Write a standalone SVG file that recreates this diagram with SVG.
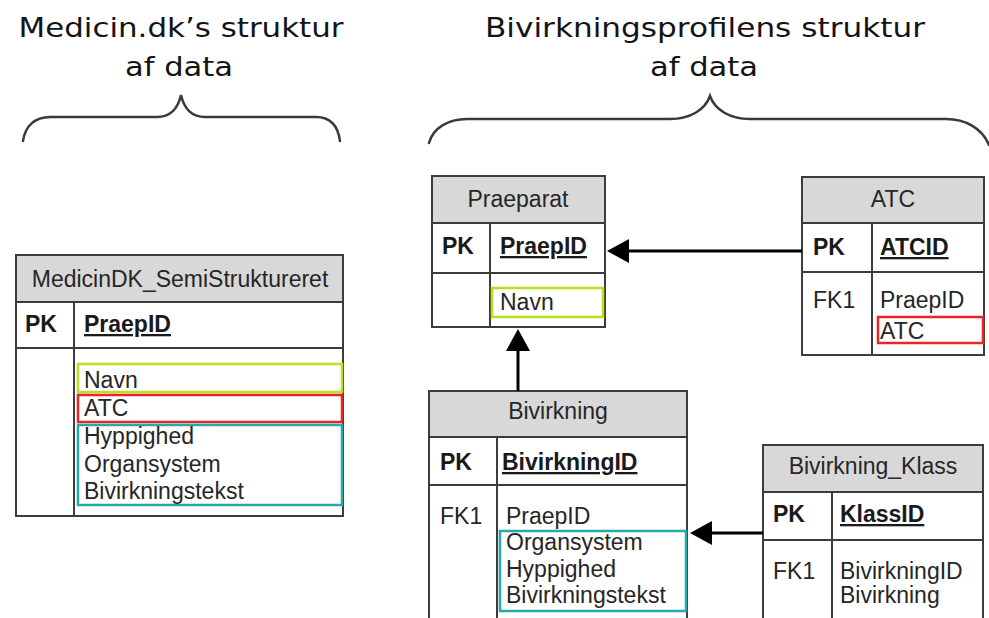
<svg xmlns="http://www.w3.org/2000/svg" width="989" height="618" viewBox="0 0 989 618">
  <style>
    .title { font-family: "DejaVu Sans", Verdana, sans-serif; font-size: 27px; fill: #141414; }
    .brace { fill: none; stroke: #3a3a3a; stroke-width: 2.5; stroke-linecap: round; }
    .box { fill: #ffffff; stroke: #3c3c3c; stroke-width: 2; }
    .head { fill: #d8d8d8; stroke: #3c3c3c; stroke-width: 2; }
    .rule { stroke: #3c3c3c; stroke-width: 2; }
    .t { font-family: "Liberation Sans", Arial, sans-serif; font-size: 23px; fill: #262626; }
    .h { text-anchor: middle; }
    .b { font-weight: bold; fill: #1a1a1a; }
    .u { text-decoration: underline; }
    .green { fill: none; stroke: #b8e01c; stroke-width: 2.5; }
    .red { fill: none; stroke: #e8262a; stroke-width: 2.5; }
    .teal { fill: none; stroke: #27a9a9; stroke-width: 2.5; }
    .link { fill: none; stroke: #000000; stroke-width: 3; }
  </style>
  <defs>
    <marker id="arrow" viewBox="0 0 22 24" refX="2" refY="12" markerWidth="22" markerHeight="24" markerUnits="userSpaceOnUse" orient="auto">
      <path d="M0,0 L22,12 L0,24 z" fill="#000000"/>
    </marker>
  </defs>
  <rect width="989" height="618" fill="#ffffff"/>

  <!-- section headings with braces -->
  <g id="heading-medicin">
    <text class="title" x="181" y="37" text-anchor="middle" textLength="325" lengthAdjust="spacingAndGlyphs">Medicin.dk’s struktur</text>
    <text class="title" x="179" y="76" text-anchor="middle" textLength="108" lengthAdjust="spacingAndGlyphs">af data</text>
    <path class="brace" d="M23,141 C25,126 35,117 50,117 L157,117 C171,117 178,108 181,95 C184,108 191,117 205,117 L316,117 C331,117 338,126 340,141"/>
  </g>
  <g id="heading-bivirkning">
    <text class="title" x="705" y="37" text-anchor="middle" textLength="440" lengthAdjust="spacingAndGlyphs">Bivirkningsprofilens struktur</text>
    <text class="title" x="704" y="76" text-anchor="middle" textLength="108" lengthAdjust="spacingAndGlyphs">af data</text>
    <path class="brace" d="M429,143 C433,128 448,119 467,119 L670,119 C690,119 705,110 710,96 C715,110 730,119 750,119 L946,119 C965,119 982,128 989,145"/>
  </g>

  <!-- MedicinDK_SemiStruktureret -->
  <g id="medicindk">
    <rect class="box" x="16" y="255" width="327" height="261"/>
    <rect class="head" x="16" y="255" width="327" height="47"/>
    <line class="rule" x1="16" y1="348" x2="343" y2="348"/>
    <line class="rule" x1="74" y1="302" x2="74" y2="516"/>
    <text class="t h" x="180" y="287">MedicinDK_SemiStruktureret</text>
    <text class="t b" x="25" y="332">PK</text>
    <text class="t b u" x="84" y="332">PraepID</text>
    <rect class="green" x="78" y="364" width="264" height="28"/>
    <rect class="red" x="78" y="395" width="264" height="27"/>
    <rect class="teal" x="78" y="425" width="264" height="80"/>
    <text class="t" x="84" y="388">Navn</text>
    <text class="t" x="84" y="416">ATC</text>
    <text class="t" x="84" y="444">Hyppighed</text>
    <text class="t" x="84" y="472">Organsystem</text>
    <text class="t" x="84" y="499">Bivirkningstekst</text>
  </g>

  <!-- Praeparat -->
  <g id="praeparat">
    <rect class="box" x="432" y="176" width="173" height="151"/>
    <rect class="head" x="432" y="176" width="173" height="47"/>
    <line class="rule" x1="432" y1="273" x2="605" y2="273"/>
    <line class="rule" x1="490" y1="223" x2="490" y2="327"/>
    <text class="t h" x="518" y="207">Praeparat</text>
    <text class="t b" x="442" y="254">PK</text>
    <text class="t b u" x="500" y="254">PraepID</text>
    <rect class="green" x="492" y="288" width="111" height="29"/>
    <text class="t" x="500" y="310">Navn</text>
  </g>

  <!-- ATC -->
  <g id="atc">
    <rect class="box" x="802" y="177" width="182" height="178"/>
    <rect class="head" x="802" y="177" width="182" height="46"/>
    <line class="rule" x1="802" y1="272" x2="984" y2="272"/>
    <line class="rule" x1="872" y1="223" x2="872" y2="355"/>
    <text class="t h" x="893" y="207">ATC</text>
    <text class="t b" x="813" y="255">PK</text>
    <text class="t b u" x="880" y="255">ATCID</text>
    <text class="t" x="813" y="308">FK1</text>
    <text class="t" x="880" y="308">PraepID</text>
    <rect class="red" x="878" y="317" width="105" height="26"/>
    <text class="t" x="880" y="339">ATC</text>
  </g>

  <!-- Bivirkning -->
  <g id="bivirkning">
    <rect class="box" x="429" y="391" width="258" height="250"/>
    <rect class="head" x="429" y="391" width="258" height="46"/>
    <line class="rule" x1="429" y1="485" x2="687" y2="485"/>
    <line class="rule" x1="497" y1="437" x2="497" y2="641"/>
    <text class="t h" x="558" y="419">Bivirkning</text>
    <text class="t b" x="440" y="470">PK</text>
    <text class="t b u" x="502" y="470">BivirkningID</text>
    <text class="t" x="440" y="524">FK1</text>
    <text class="t" x="506" y="524">PraepID</text>
    <rect class="teal" x="500" y="531" width="186" height="80"/>
    <text class="t" x="506" y="550">Organsystem</text>
    <text class="t" x="506" y="577">Hyppighed</text>
    <text class="t" x="506" y="603">Bivirkningstekst</text>
  </g>

  <!-- Bivirkning_Klass -->
  <g id="bivirkning-klass">
    <rect class="box" x="763" y="445" width="220" height="196"/>
    <rect class="head" x="763" y="445" width="220" height="47"/>
    <line class="rule" x1="763" y1="540" x2="983" y2="540"/>
    <line class="rule" x1="832" y1="492" x2="832" y2="641"/>
    <text class="t h" x="873" y="474">Bivirkning_Klass</text>
    <text class="t b" x="773" y="522">PK</text>
    <text class="t b u" x="840" y="522">KlassID</text>
    <text class="t" x="773" y="579">FK1</text>
    <text class="t" x="840" y="579">BivirkningID</text>
    <text class="t" x="840" y="603">Bivirkning</text>
  </g>

  <!-- foreign key links -->
  <g id="connectors">
    <path class="link" d="M802,251 L627,251" marker-end="url(#arrow)"/>
    <path class="link" d="M518,391 L518,349" marker-end="url(#arrow)"/>
    <path class="link" d="M763,533 L710,533" marker-end="url(#arrow)"/>
  </g>
</svg>
